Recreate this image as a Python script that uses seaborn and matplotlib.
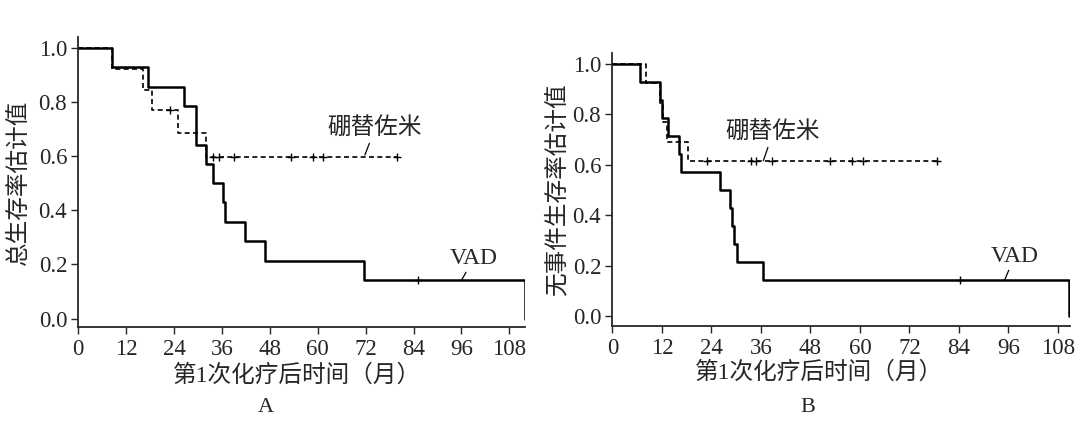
import matplotlib
matplotlib.use("Agg")
import matplotlib.pyplot as plt
import numpy as np
import pandas as pd
import seaborn as sns

# panel A: overall survival
a_vad_t = [0, 8.4, 17.5, 26.5, 29.4, 29.6, 31.9, 33.8, 36.3, 36.8, 41.8, 46.8, 71.6, 111.9]
a_vad_s = [1.0, 0.929, 0.857, 0.786, 0.714, 0.643, 0.571, 0.5, 0.429, 0.357, 0.286, 0.214, 0.143, 0.0]
a_vad_cens = [85.0]
a_bor_t = [0, 8.4, 16.2, 18.5, 24.9, 31.9, 79.8]
a_bor_s = [1.0, 0.923, 0.846, 0.769, 0.684, 0.598, 0.598]
a_bor_cens = [23.1, 33.8, 35.3, 39.0, 53.3, 58.8, 61.3, 79.8]

# panel B: event-free survival
b_vad_t = [0, 6.7, 11.5, 12.0, 13.4, 16.2, 16.6, 26.1, 28.6, 28.9, 29.5, 30.3, 36.4, 110.8]
b_vad_s = [1.0, 0.929, 0.857, 0.786, 0.714, 0.643, 0.571, 0.5, 0.429, 0.357, 0.286, 0.214, 0.143, 0.0]
b_vad_cens = [84.2]
b_bor_t = [0, 8.2, 11.5, 12.2, 13.3, 18.4, 78.7]
b_bor_s = [1.0, 0.923, 0.846, 0.769, 0.692, 0.615, 0.615]
b_bor_cens = [23.0, 33.7, 34.7, 38.8, 52.7, 58.2, 60.8, 78.7]

x_ticks = [0, 12, 24, 36, 48, 60, 72, 84, 96, 108]
y_ticks = [0.0, 0.2, 0.4, 0.6, 0.8, 1.0]
x_label = '第1次化疗后时间（月）'
y_labels = ['总生存率估计值', '无事件生存率估计值']
group_names = ['VAD', '硼替佐米']

sns.set_style('ticks')
plt.rcParams['font.family'] = ['Liberation Serif', 'Noto Sans CJK SC']
plt.rcParams['axes.unicode_minus'] = False


def step_value(times, surv, t):
    i = np.searchsorted(times, t, side='right') - 1
    return surv[i]


def draw_curve(ax, times, surv, cens, dashed):
    df = pd.DataFrame({'time': times, 'surv': surv})
    kw = dict(linewidth=1.2, linestyle=(0, (3, 2))) if dashed else dict(linewidth=1.8)
    sns.lineplot(data=df, x='time', y='surv', color='black', drawstyle='steps-post',
                 estimator=None, ax=ax, **kw)
    cdf = pd.DataFrame({'time': cens, 'surv': [step_value(times, surv, c) for c in cens]})
    sns.scatterplot(data=cdf, x='time', y='surv', marker='+', s=40, color='black',
                    linewidth=1.0, ax=ax, zorder=3)


def style_axes(ax, xmax, ymin, ymax, ylabel, ylab_x, xlab_x):
    ax.set_xlim(0, xmax)
    ax.set_ylim(ymin, ymax)
    ax.set_xticks(x_ticks)
    ax.set_yticks(y_ticks)
    ax.set_yticklabels([f'{v:.1f}' for v in y_ticks])
    sns.despine(ax=ax)
    for s in ['left', 'bottom']:
        ax.spines[s].set_linewidth(1.3)
    ax.tick_params(length=5, width=1.0, labelsize=16.5, pad=3)
    ax.tick_params(axis='x', pad=4)
    ax.set_xlabel(x_label, fontsize=17)
    ax.set_ylabel(ylabel, fontsize=17)
    ax.xaxis.set_label_coords(xlab_x, -0.13)
    ax.yaxis.set_label_coords(ylab_x, 0.5)


fig = plt.figure(figsize=(10.8, 4.21), dpi=100)
ax_a = fig.add_axes([0.0725, 0.224, 0.4139, 0.688])
ax_b = fig.add_axes([0.567, 0.2257, 0.424, 0.6485])

draw_curve(ax_a, a_vad_t, a_vad_s, a_vad_cens, False)
draw_curve(ax_a, a_bor_t, a_bor_s, a_bor_cens, True)
style_axes(ax_a, 112, -0.03, 1.04, y_labels[0], -0.108, 0.49)

draw_curve(ax_b, b_vad_t, b_vad_s, b_vad_cens, False)
draw_curve(ax_b, b_bor_t, b_bor_s, b_bor_cens, True)
style_axes(ax_b, 111, -0.04, 1.044, y_labels[1], -0.096, 0.451)

arrow = dict(arrowstyle='-', color='black', lw=0.9, shrinkA=0, shrinkB=0)
ax_a.annotate(group_names[1], xy=(71.8, 0.604), xytext=(74.3, 0.70), fontsize=17,
              ha='center', va='center', arrowprops=arrow)
ax_a.annotate(group_names[0], xy=(96.1, 0.144), xytext=(99.1, 0.222), fontsize=17,
              ha='center', va='center', arrowprops=arrow)
ax_b.annotate(group_names[1], xy=(36.6, 0.616), xytext=(38.9, 0.726), fontsize=17,
              ha='center', va='center', arrowprops=arrow)
ax_b.annotate(group_names[0], xy=(95.1, 0.143), xytext=(97.5, 0.236), fontsize=17,
              ha='center', va='center', arrowprops=arrow)

fig.text(265.8 / 1080, 1 - 408 / 421, 'A', fontsize=16, ha='center', va='center')
fig.text(808 / 1080, 1 - 408 / 421, 'B', fontsize=16, ha='center', va='center')

fig.savefig('out.png', dpi=100)
